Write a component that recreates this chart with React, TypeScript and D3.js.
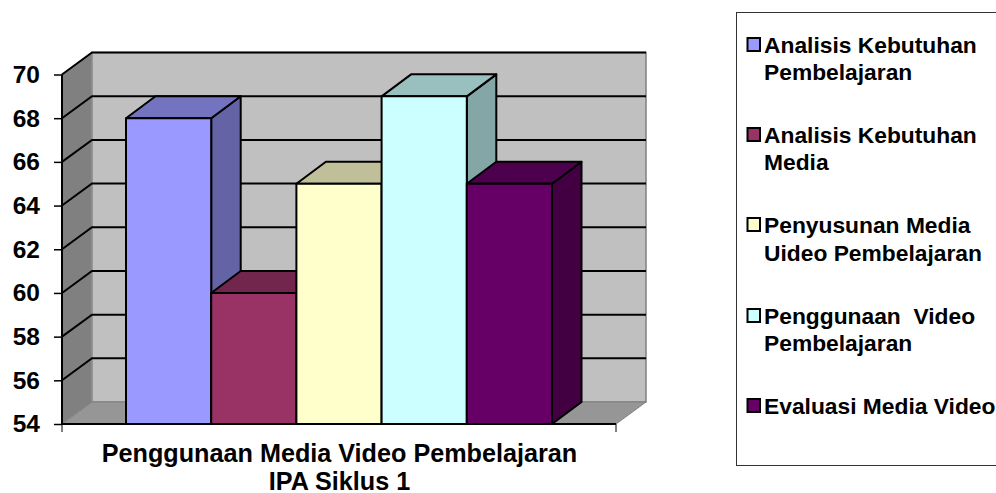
import { useEffect, useRef } from "react";
import * as d3 from "d3";

const seriesNames = [
  "Analisis Kebutuhan Pembelajaran",
  "Analisis Kebutuhan Media",
  "Penyusunan Media Uideo Pembelajaran",
  "Penggunaan  Video Pembelajaran",
  "Evaluasi Media Video",
];
const seriesValues = [68, 60, 65, 69, 65];
const seriesColors = ["#9999FF", "#993366", "#FFFFCC", "#CCFFFF", "#660066"];
const legendLines = [
  ["Analisis Kebutuhan", "Pembelajaran"],
  ["Analisis Kebutuhan", "Media"],
  ["Penyusunan Media", "Uideo Pembelajaran"],
  ["Penggunaan  Video", "Pembelajaran"],
  ["Evaluasi Media Video"],
];
const legendBaselines = [
  [53, 80],
  [143, 170],
  [233, 261],
  [324, 351],
  [414],
];
const yTicks = [54, 56, 58, 60, 62, 64, 66, 68, 70];
const titleLines = ["Penggunaan Media Video Pembelajaran", "IPA Siklus 1"];

const FONT = "'Liberation Sans', Arial, sans-serif";

const shade = (color: string, k: number) => {
  const c = d3.rgb(color);
  return d3.rgb(c.r * k, c.g * k, c.b * k).formatHex();
};

export default function App() {
  const svgRef = useRef<SVGSVGElement>(null);

  useEffect(() => {
    if (!svgRef.current) return;
    const svg = d3.select(svgRef.current);
    svg.selectAll("*").remove();

    const y = d3.scaleLinear().domain([54, 70]).range([424, 74.5]);
    const x = d3.scaleBand<string>().domain(seriesNames).range([126, 552]).padding(0);
    const left = 62;
    const right = 616;
    const depthX = 30;
    const depthY = 22;

    const poly = (pts: [number, number][]) => d3.line()(pts)! + "Z";

    // walls
    svg
      .append("path")
      .attr("d", poly([[left + depthX, y(70) - depthY], [right + depthX, y(70) - depthY], [right + depthX, y(54) - depthY], [left + depthX, y(54) - depthY]]))
      .attr("fill", "#C0C0C0")
      .attr("stroke", "#808080")
      .attr("stroke-width", 1.5);
    svg
      .append("path")
      .attr("d", poly([[left, y(70)], [left + depthX, y(70) - depthY], [left + depthX, y(54) - depthY], [left, y(54)]]))
      .attr("fill", "#808080")
      .attr("stroke", "#999999")
      .attr("stroke-width", 1);
    svg
      .append("path")
      .attr("d", poly([[left, y(54)], [left + depthX, y(54) - depthY], [right + depthX, y(54) - depthY], [right, y(54)]]))
      .attr("fill", "#969696")
      .attr("stroke", "#808080")
      .attr("stroke-width", 1);

    // gridlines, wrapping from the side wall onto the back wall
    svg
      .append("g")
      .selectAll("path")
      .data(yTicks.slice(1))
      .enter()
      .append("path")
      .attr("d", (d) =>
        d3.line()([
          [left, y(d)],
          [left + depthX, y(d) - depthY],
          [right + depthX, y(d) - depthY],
        ])
      )
      .attr("fill", "none")
      .attr("stroke", "#000")
      .attr("stroke-width", 2);

    // bars, left to right so each one overlaps the previous side face
    const bars = svg
      .append("g")
      .selectAll("g")
      .data(seriesNames)
      .enter()
      .append("g")
      .attr("stroke", "#000")
      .attr("stroke-width", 2)
      .attr("stroke-linejoin", "round");

    const barDx = 29.5;
    bars
      .append("path")
      .attr("fill", (_, i) => shade(seriesColors[i], 0.65))
      .attr("d", (d, i) => {
        const x1 = x(d)! + x.bandwidth();
        const top = y(seriesValues[i]);
        return poly([[x1, top], [x1 + barDx, top - depthY], [x1 + barDx, y(54) - depthY], [x1, y(54)]]);
      });
    bars
      .append("path")
      .attr("fill", (_, i) => shade(seriesColors[i], 0.75))
      .attr("d", (d, i) => {
        const x0 = x(d)!;
        const x1 = x0 + x.bandwidth();
        const top = y(seriesValues[i]);
        return poly([[x0, top], [x0 + barDx, top - depthY], [x1 + barDx, top - depthY], [x1, top]]);
      });
    bars
      .append("rect")
      .attr("x", (d) => x(d)!)
      .attr("y", (_, i) => y(seriesValues[i]))
      .attr("width", x.bandwidth())
      .attr("height", (_, i) => y(54) - y(seriesValues[i]))
      .attr("fill", (_, i) => seriesColors[i]);

    // y axis
    const yAxis = svg
      .append("g")
      .attr("transform", `translate(${left},0)`)
      .call(d3.axisLeft(y).tickValues(yTicks).tickSize(8).tickPadding(14).tickFormat(d3.format("d")));
    yAxis.select(".domain").attr("stroke", "#000").attr("stroke-width", 2).attr("d", `M0,${y(70)}V${y(54)}`);
    yAxis.selectAll("line").attr("stroke", "#000").attr("stroke-width", 1.5);
    yAxis
      .selectAll("text")
      .attr("font-family", FONT)
      .attr("font-size", 24.5)
      .attr("font-weight", "bold")
      .attr("fill", "#000");

    // x axis line and end ticks
    svg
      .append("line")
      .attr("x1", left)
      .attr("x2", right)
      .attr("y1", y(54))
      .attr("y2", y(54))
      .attr("stroke", "#000")
      .attr("stroke-width", 2);
    svg
      .append("g")
      .selectAll("line")
      .data([left, right])
      .enter()
      .append("line")
      .attr("x1", (d) => d)
      .attr("x2", (d) => d)
      .attr("y1", y(54))
      .attr("y2", y(54) + 8)
      .attr("stroke", "#000")
      .attr("stroke-width", 1);

    // category title
    svg
      .append("g")
      .selectAll("text")
      .data(titleLines)
      .enter()
      .append("text")
      .attr("x", 339.5)
      .attr("y", (_, i) => 462 + i * 28)
      .attr("text-anchor", "middle")
      .attr("font-family", FONT)
      .attr("font-size", 25.2)
      .attr("font-weight", "bold")
      .text((d) => d);

    // legend
    svg
      .append("rect")
      .attr("x", 736.5)
      .attr("y", 12.5)
      .attr("width", 270)
      .attr("height", 453)
      .attr("fill", "#fff")
      .attr("stroke", "#333")
      .attr("stroke-width", 1);

    const legend = svg
      .append("g")
      .selectAll("g")
      .data(seriesNames)
      .enter()
      .append("g");
    legend
      .append("rect")
      .attr("x", 747.5)
      .attr("y", (_, i) => legendBaselines[i][0] - 15)
      .attr("width", 12.5)
      .attr("height", 13)
      .attr("fill", (_, i) => seriesColors[i])
      .attr("stroke", "#000")
      .attr("stroke-width", 2);
    legend.each(function (_, i) {
      d3.select(this)
        .selectAll("text")
        .data(legendLines[i])
        .enter()
        .append("text")
        .attr("x", 764)
        .attr("y", (_l, j) => legendBaselines[i][j])
        .attr("font-family", FONT)
        .attr("font-size", 22.8)
        .attr("font-weight", "bold")
        .style("white-space", "pre")
        .text((l) => l);
    });
  }, []);

  return (
    <svg
      ref={svgRef}
      width={996}
      height={493}
      style={{ position: "fixed", left: 0, top: 0, display: "block", background: "#fff" }}
    />
  );
}
